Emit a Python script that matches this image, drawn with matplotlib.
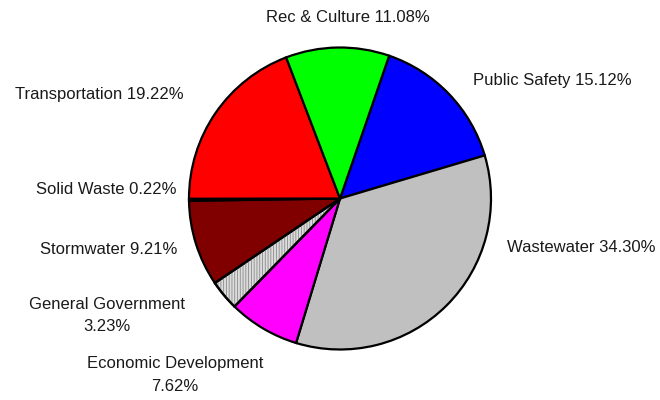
import matplotlib
matplotlib.use("Agg")
import matplotlib.pyplot as plt
from matplotlib.patches import Wedge

categories = ["Public Safety", "Wastewater", "Economic Development", "General Government",
              "Stormwater", "Solid Waste", "Transportation", "Rec & Culture"]
values = [15.12, 34.30, 7.62, 3.23, 9.21, 0.22, 19.22, 11.08]
label_texts = ["Public Safety 15.12%", "Wastewater 34.30%", "Economic Development\n7.62%",
               "General Government\n3.23%", "Stormwater 9.21%", "Solid Waste 0.22%",
               "Transportation 19.22%", "Rec & Culture 11.08%"]
colors = ["#0000FF", "#C0C0C0", "#FF00FF", "#DCDCDC", "#800000", "#004000", "#FF0000", "#00FF00"]

plt.rcParams['font.family'] = ["Liberation Sans", "DejaVu Sans"]

W, H = 660, 400
fig = plt.figure(figsize=(6.6, 4.0), dpi=100)
ax = fig.add_axes([0, 0, 1, 1])

cx, cy, r = 340, H - 198.5, 151
wedges, _ = ax.pie(values, colors=colors, startangle=71, counterclock=False,
                   center=(cx, cy), radius=r, frame=True,
                   wedgeprops=dict(edgecolor='black', linewidth=1.6))
ax.set_xlim(0, W)
ax.set_ylim(0, H)
ax.axis('off')

# vertical line hatch for General Government
plt.rcParams['hatch.linewidth'] = 0.6
gg = wedges[3]
ax.add_patch(Wedge(gg.center, gg.r, gg.theta1, gg.theta2, facecolor='none',
                   edgecolor='#8a8a8a', hatch='||||||', linewidth=0))
ax.add_patch(Wedge(gg.center, gg.r, gg.theta1, gg.theta2, facecolor='none',
                   edgecolor='black', linewidth=1.6))

# label positions (pixel coords, layout only)
pos = {
    0: (473, 80, 'left', 'center'),
    1: (507, 247, 'left', 'center'),
    2: (175, 375, 'center', 'center'),
    3: (107, 315.5, 'center', 'center'),
    4: (177, 249, 'right', 'center'),
    5: (177, 190, 'right', 'center'),
    6: (184, 94, 'right', 'center'),
    7: (348, 17, 'center', 'center'),
}
for i, t in enumerate(label_texts):
    x, y, ha, va = pos[i]
    ax.text(x, H - y, t, ha=ha, va=va, fontsize=12, color='#1a1a1a',
            linespacing=1.62, multialignment='center')

fig.savefig("out.png", dpi=100, facecolor='white')
